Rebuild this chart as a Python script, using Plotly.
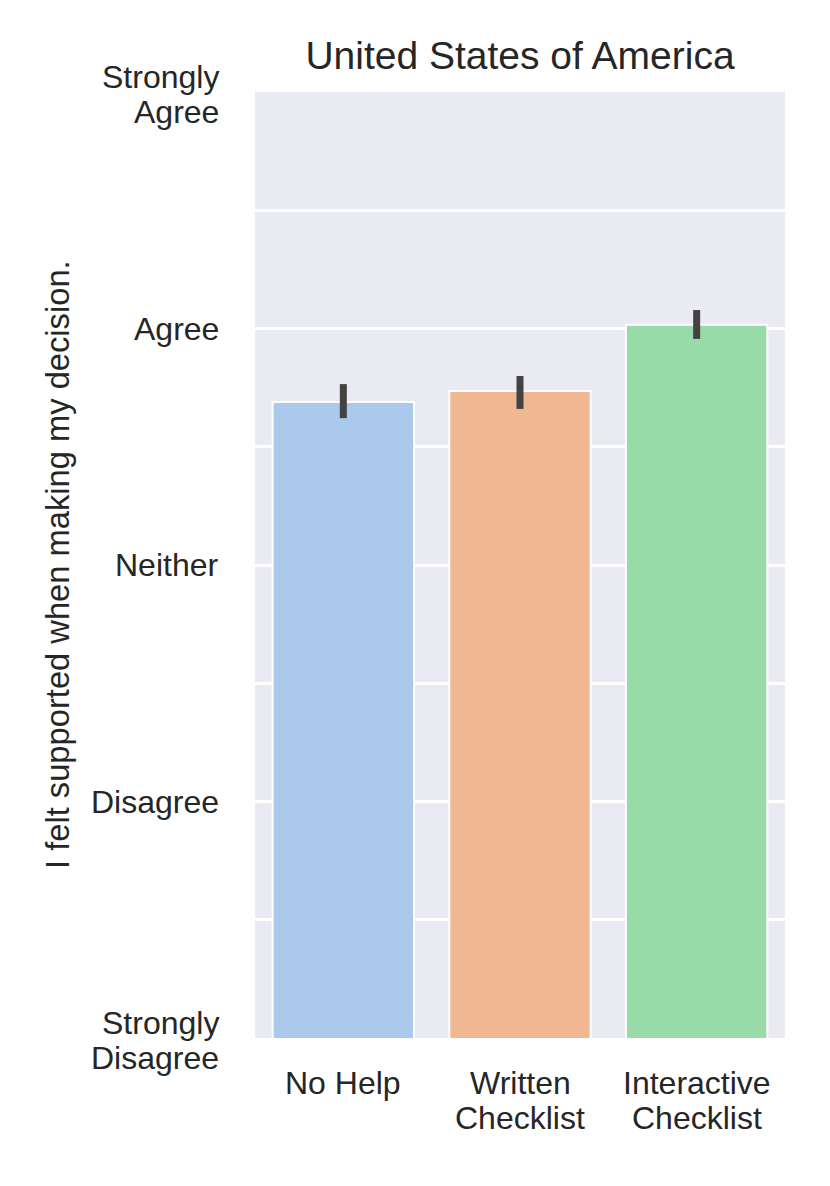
import plotly.graph_objects as go

# conditions and mean Likert scores (1 = Strongly Disagree, 5 = Strongly Agree)
conditions = ["No Help", "Written\nChecklist", "Interactive\nChecklist"]
mean_score = [3.689, 3.736, 4.016]
ci_upper = [0.076, 0.063, 0.062]
ci_lower = [0.068, 0.076, 0.060]
bar_colors = ["#abc9eb", "#f0b892", "#99dba8"]

likert_vals = [1, 2, 3, 4, 5]
likert_text = [
    "Strongly\nDisagree",
    "Disagree",
    "Neither",
    "Agree",
    "Strongly\nAgree",
]

font = "Liberation Sans, Arial, sans-serif"
ink = "#262626"
line_gap = 35  # matplotlib-like line spacing for two-line labels

fig = go.Figure(
    go.Bar(
        x=conditions,
        y=mean_score,
        width=0.8,
        marker=dict(color=bar_colors, line=dict(color="white", width=2)),
        error_y=dict(
            type="data",
            symmetric=False,
            array=ci_upper,
            arrayminus=ci_lower,
            color="#424242",
            thickness=7,
            width=0,
        ),
    )
)

# the page sits 8px in from the top-left corner, so margins are shifted by 8
fig.update_layout(
    width=830,
    height=1186,
    margin=dict(l=247, r=53, t=84, b=156),
    paper_bgcolor="white",
    plot_bgcolor="#eaeaf2",
    showlegend=False,
    font=dict(family=font, color=ink),
    title=dict(
        text="United States of America",
        x=0.5,
        xref="paper",
        y=1 - 47 / 1186,
        yref="container",
        yanchor="middle",
        font=dict(size=39, color=ink),
    ),
)

fig.update_xaxes(
    range=[-0.5, 2.5],
    showgrid=False,
    zeroline=False,
    showline=False,
    showticklabels=False,
    ticks="",
)

fig.update_yaxes(
    range=[1, 5],
    tickvals=likert_vals,
    showticklabels=False,
    showgrid=True,
    gridcolor="white",
    gridwidth=2.5,
    minor=dict(dtick=0.5, showgrid=True, gridcolor="white", gridwidth=2.5),
    zeroline=False,
    showline=False,
    ticks="",
)

# tick labels as annotations so two-line labels get tighter line spacing
label_font = dict(size=32, color=ink)
for cat in conditions:
    for i, part in enumerate(cat.split("\n")):
        fig.add_annotation(
            text=part,
            xref="x",
            yref="paper",
            x=cat,
            y=0,
            xanchor="center",
            yanchor="middle",
            yshift=-45 - i * line_gap,
            showarrow=False,
            font=label_font,
        )

for val, lab in zip(likert_vals, likert_text):
    parts = lab.split("\n")
    offset = (len(parts) - 1) * line_gap / 2
    for i, part in enumerate(parts):
        fig.add_annotation(
            text=part,
            xref="paper",
            yref="y",
            x=0,
            y=val,
            xanchor="right",
            yanchor="middle",
            xshift=-34,
            yshift=offset - i * line_gap - (2 if len(parts) > 1 else 0),
            showarrow=False,
            font=label_font,
        )

fig.add_annotation(
    text="I felt supported when making my decision.",
    xref="paper",
    yref="paper",
    x=(57 - 255) / 530,
    y=0.5,
    xanchor="center",
    yanchor="middle",
    textangle=-90,
    showarrow=False,
    font=dict(size=32.7, color=ink),
)

fig.write_html("out.html")
